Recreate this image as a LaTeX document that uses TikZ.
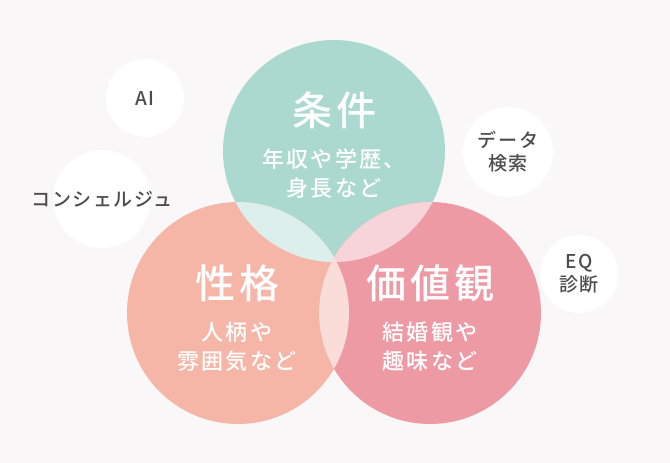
\documentclass[tikz,border=0pt]{standalone}
\usepackage{fontspec}
\setmainfont{Noto Sans CJK JP}
\newfontfamily\medfont{Noto Sans CJK JP Medium}

\definecolor{bgcol}{HTML}{F9F7F8}
\definecolor{jokencol}{HTML}{ACD9CF}
\definecolor{seikakucol}{HTML}{F5B6A8}
\definecolor{kachicol}{HTML}{ED9AA4}
\definecolor{jsmix}{HTML}{DDEFEC}
\definecolor{jkmix}{HTML}{F7D4D9}
\definecolor{skmix}{HTML}{FADCD8}
\definecolor{subtext}{HTML}{4D4D4D}

\tikzset{
  bigcircle/.style={circle, minimum size=222pt, inner sep=0pt},
  smallcircle/.style={circle, fill=white, inner sep=0pt},
  titletext/.style={text=white, font=\medfont\fontsize{40}{44}\selectfont\addfontfeature{LetterSpace=10}},
  bodytext/.style={text=white, align=center, font=\medfont\fontsize{22}{29}\selectfont\addfontfeature{LetterSpace=10}},
  smalltext/.style={text=subtext, align=center, font=\medfont\fontsize{19}{23}\selectfont\addfontfeature{LetterSpace=8}}
}

\begin{document}
\begin{tikzpicture}[x=1pt,y=-1pt]

  % Background
  \fill[bgcol] (0,0) rectangle (670,463);

  % Small white circles
  \node[smallcircle, minimum size=78pt] (ai) at (145,98) {};
  \node[smallcircle, minimum size=98pt] (concierge) at (102,199) {};
  \node[smallcircle, minimum size=90pt] (data) at (508,152) {};
  \node[smallcircle, minimum size=78pt] (eq) at (579,274) {};

  % Main circles
  \node[bigcircle, fill=jokencol] (joken) at (334,151) {};
  \node[bigcircle, fill=seikakucol] (seikaku) at (238,313) {};
  \node[bigcircle, fill=kachicol] (kachi) at (430,313) {};

  % Overlaps
  \begin{scope}
    \clip (joken.center) circle[radius=111pt];
    \fill[jsmix] (seikaku.center) circle[radius=111pt];
  \end{scope}
  \begin{scope}
    \clip (joken.center) circle[radius=111pt];
    \fill[jkmix] (kachi.center) circle[radius=111pt];
  \end{scope}
  \begin{scope}
    \clip (seikaku.center) circle[radius=111pt];
    \fill[skmix] (kachi.center) circle[radius=111pt];
  \end{scope}

  % Labels
  \node[titletext] (jokentitle) at (334,110) {条件};
  \node[bodytext] (jokenbody) at (334,174) {年収や学歴、\\身長など};
  \node[titletext] (seikakutitle) at (237,283) {性格};
  \node[bodytext] (seikakubody) at (237,347) {人柄や\\雰囲気など};
  \node[titletext] (kachititle) at (430,283) {価値観};
  \node[bodytext] (kachibody) at (430,347) {結婚観や\\趣味など};

  \node[smalltext] at (ai.center) {AI};
  \node[smalltext] at (concierge.center) {コンシェルジュ};
  \node[smalltext] at (data.center) {データ\\検索};
  \node[smalltext] at (eq.center) {EQ\\診断};

\end{tikzpicture}
\end{document}
